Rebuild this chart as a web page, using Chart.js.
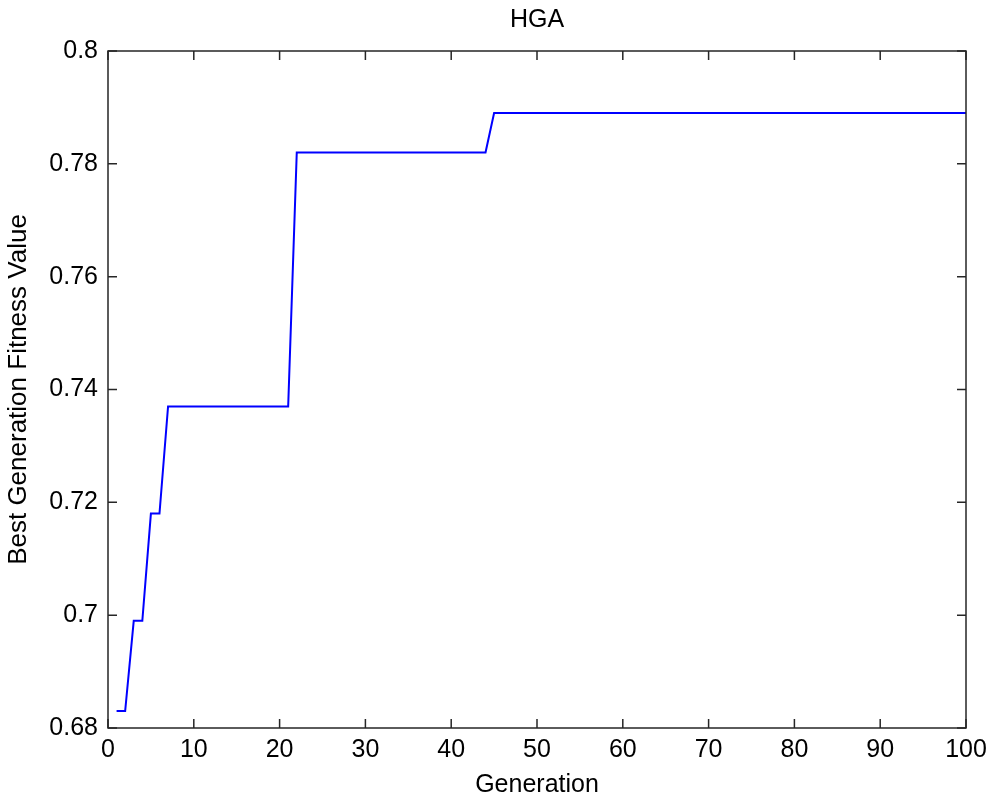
<!DOCTYPE html>
<html>
<head>
<meta charset="utf-8">
<title>HGA</title>
<script src="https://cdn.jsdelivr.net/npm/chart.js@4.4.1/dist/chart.umd.min.js"></script>
<style>
  html, body { margin: 0; padding: 0; background: #fff; }
  canvas { display: block; }
</style>
</head>
<body>
<canvas id="hgaChart" width="991" height="801"></canvas>
<script>
// generations where the curve changes, and best fitness there
const generations = [1, 2, 3, 4, 5, 6, 7, 21, 22, 44, 45, 100];
const bestFitness = [0.683, 0.683, 0.699, 0.699, 0.718, 0.718, 0.737, 0.737, 0.782, 0.782, 0.789, 0.789];

const xTicks = [0, 10, 20, 30, 40, 50, 60, 70, 80, 90, 100];
const xTickLabels = ['0', '10', '20', '30', '40', '50', '60', '70', '80', '90', '100'];
const yTicks = [0.68, 0.70, 0.72, 0.74, 0.76, 0.78, 0.80];
const yTickLabels = ['0.68', '0.7', '0.72', '0.74', '0.76', '0.78', '0.8'];

const FONT = "'Liberation Sans', Arial, Helvetica, sans-serif";
const TICK_LEN = 9;

// matlab style box with inward ticks on all four sides
const boxPlugin = {
    id: 'matlabBox',
    afterDraw(chart) {
        const { ctx, chartArea: a, scales } = chart;
        ctx.save();
        ctx.strokeStyle = '#262626';
        ctx.lineWidth = 1.5;
        ctx.strokeRect(a.left, a.top, a.right - a.left, a.bottom - a.top);
        ctx.beginPath();
        xTicks.forEach(v => {
            const px = scales.x.getPixelForValue(v);
            ctx.moveTo(px, a.bottom); ctx.lineTo(px, a.bottom - TICK_LEN);
            ctx.moveTo(px, a.top); ctx.lineTo(px, a.top + TICK_LEN);
        });
        yTicks.forEach(v => {
            const py = scales.y.getPixelForValue(v);
            ctx.moveTo(a.left, py); ctx.lineTo(a.left + TICK_LEN, py);
            ctx.moveTo(a.right, py); ctx.lineTo(a.right - TICK_LEN, py);
        });
        ctx.stroke();
        ctx.restore();
    }
};

const ctx = document.getElementById('hgaChart').getContext('2d');
new Chart(ctx, {
    type: 'line',
    data: {
        datasets: [{
            data: generations.map((g, i) => ({ x: g, y: bestFitness[i] })),
            borderColor: '#0000ff',
            borderWidth: 2,
            pointRadius: 0,
            tension: 0,
            fill: false
        }]
    },
    options: {
        responsive: false,
        animation: false,
        devicePixelRatio: 1,
        layout: { padding: { left: 0, right: 25, top: 0, bottom: 0 } },
        plugins: {
            legend: { display: false },
            tooltip: { enabled: false },
            title: { display: false }
        },
        scales: {
            x: {
                type: 'linear',
                min: 0,
                max: 100,
                afterBuildTicks: s => { s.ticks = xTicks.map(v => ({ value: v })); },
                afterFit: s => { s.height = 73; s.paddingLeft = 0; s.paddingRight = 0; },
                grid: { display: false, drawTicks: false },
                border: { display: false },
                ticks: {
                    color: '#000',
                    padding: 7,
                    maxRotation: 0,
                    autoSkip: false,
                    font: { family: FONT, size: 25, lineHeight: 1.2 },
                    callback: (v, i) => xTickLabels[i]
                },
                title: {
                    display: true,
                    text: 'Generation',
                    color: '#000',
                    font: { family: FONT, size: 25, lineHeight: 1.2 },
                    padding: { top: 0, bottom: 1 }
                }
            },
            // top axis only carries the title, centred over the plot
            xTop: {
                type: 'linear',
                position: 'top',
                min: 0,
                max: 100,
                afterFit: s => { s.height = 51; s.paddingLeft = 0; s.paddingRight = 0; },
                grid: { display: false, drawTicks: false },
                border: { display: false },
                ticks: { display: false },
                title: {
                    display: true,
                    text: 'HGA',
                    color: '#000',
                    font: { family: FONT, size: 25, lineHeight: 1.2 },
                    padding: { top: 5, bottom: 0 }
                }
            },
            y: {
                type: 'linear',
                min: 0.68,
                max: 0.8,
                afterBuildTicks: s => { s.ticks = yTicks.map(v => ({ value: v })); },
                afterFit: s => { s.width = 108; },
                grid: { display: false, drawTicks: false },
                border: { display: false },
                ticks: {
                    color: '#000',
                    padding: 10,
                    autoSkip: false,
                    font: { family: FONT, size: 25, lineHeight: 1.2 },
                    callback: (v, i) => yTickLabels[i]
                },
                title: {
                    display: true,
                    text: 'Best Generation Fitness Value',
                    color: '#000',
                    font: { family: FONT, size: 26, lineHeight: 1.2 },
                    padding: { top: 3, bottom: 0 }
                }
            }
        }
    },
    plugins: [boxPlugin]
});
</script>
</body>
</html>
